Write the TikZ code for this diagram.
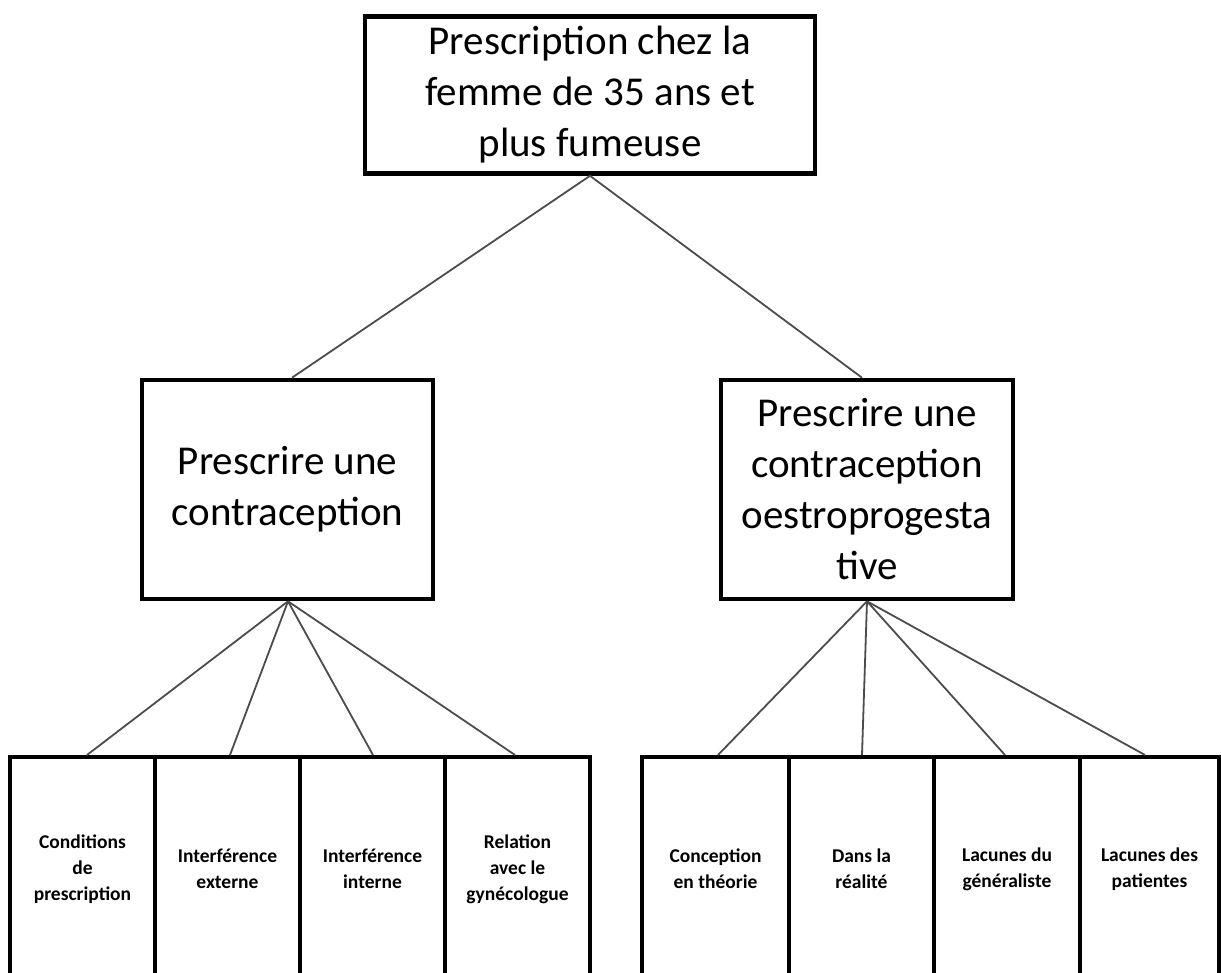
\documentclass[tikz,border=0pt]{standalone}
\usepackage{fontspec}
\setmainfont{Carlito}
\begin{document}
\begin{tikzpicture}[x=1pt,y=-1pt,
  bigbox/.style={draw=black, line width=4.6pt, fill=white, align=center, inner sep=0pt,
     font=\fontsize{41}{51}\selectfont},
  leaf/.style={draw=black, line width=4pt, align=center, inner sep=0pt,
     minimum height=224pt, font=\bfseries\fontsize{19.5}{26}\selectfont},
  link/.style={draw=black!70, line width=1.8pt}
]
\useasboundingbox (0,0) rectangle (1221,972);
\clip (0,0) rectangle (1221,972);
\fill[white] (0,0) rectangle (1221,972);

\coordinate (t0) at (590,173);
\coordinate (l0) at (292,380);
\coordinate (r0) at (862,380);
\coordinate (lb) at (288,599);
\coordinate (rb) at (867,599);

\node[bigbox, minimum width=450pt, minimum height=157pt] (top) at (590,95)
  {Prescription chez la\\femme de 35 ans et\\plus fumeuse};
\node[bigbox, minimum width=291pt, minimum height=219pt] (left) at (287.5,489.5)
  {Prescrire une\\contraception};
\node[bigbox, minimum width=292pt, minimum height=219pt] (right) at (867,489.5)
  {Prescrire une\\contraception\\oestroprogesta\\tive};

\node[leaf, minimum width=145pt] (a1) at (82.5,869) {Conditions\\de\\prescription};
\node[leaf, minimum width=145pt] (a2) at (227.5,869) {Interférence\\externe};
\node[leaf, minimum width=145pt] (a3) at (372.5,869) {Interférence\\interne};
\node[leaf, minimum width=145pt] (a4) at (517.5,869) {Relation\\avec le\\gynécologue};

\node[leaf, minimum width=147pt] (b1) at (715.5,869) {Conception\\en théorie};
\node[leaf, minimum width=145pt] (b2) at (861.5,869) {Dans la\\réalité};
\node[leaf, minimum width=146pt] (b3) at (1007,869) {Lacunes du\\généraliste};
\node[leaf, minimum width=139pt] (b4) at (1149.5,869) {Lacunes des\\patientes};

\path[link] (top.south -| t0) -- (left.north -| l0);
\path[link] (top.south -| t0) -- (right.north -| r0);

\path[link] (left.south -| lb) -- ([xshift=4.5pt]a1.north);
\path[link] (left.south -| lb) -- ([xshift=2.5pt]a2.north);
\path[link] (left.south -| lb) -- ([xshift=0.5pt]a3.north);
\path[link] (left.south -| lb) -- ([xshift=-2.5pt]a4.north);

\path[link] (right.south -| rb) -- ([xshift=2.5pt]b1.north);
\path[link] (right.south -| rb) -- ([xshift=0.5pt]b2.north);
\path[link] (right.south -| rb) -- ([xshift=-2pt]b3.north);
\path[link] (right.south -| rb) -- ([xshift=-4.5pt]b4.north);
\end{tikzpicture}
\end{document}
